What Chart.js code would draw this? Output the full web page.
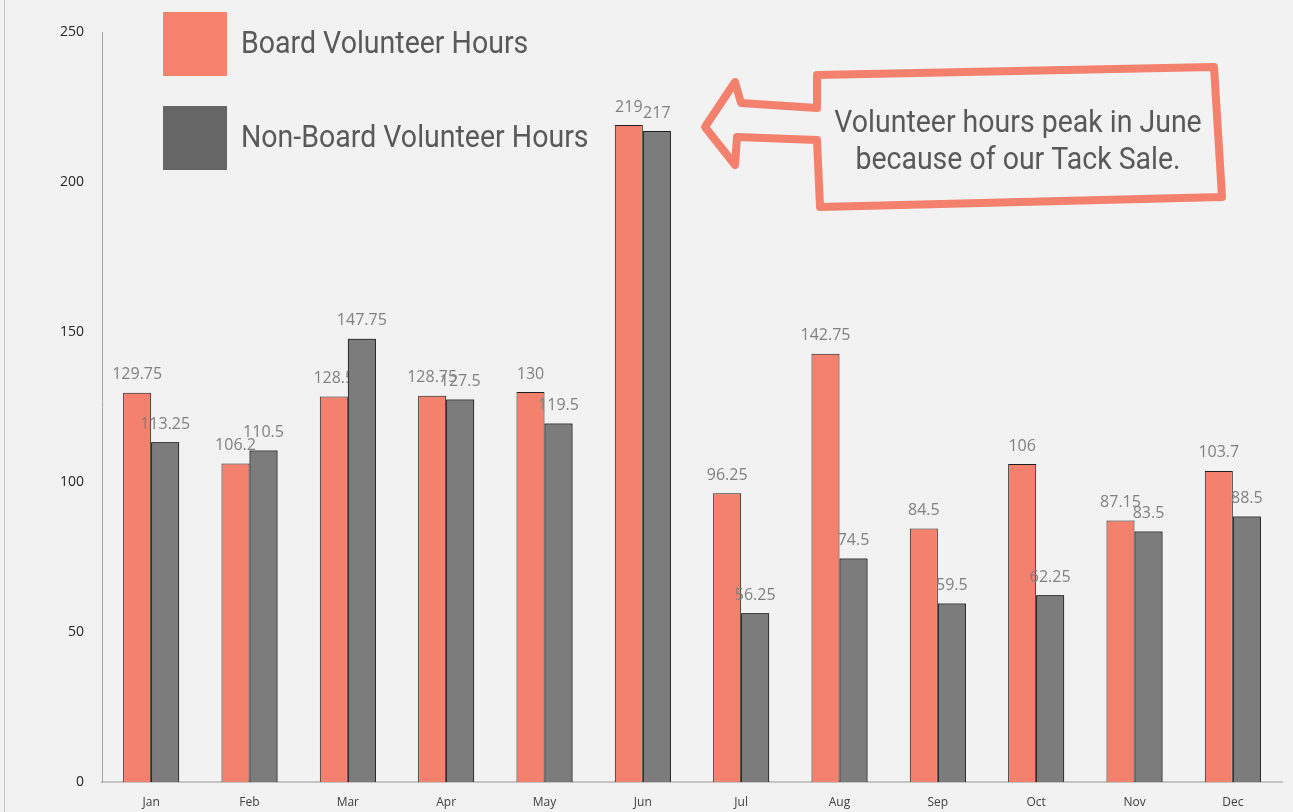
<!DOCTYPE html>
<html>
<head>
    <title>Volunteer Hours</title>
    <script src="https://cdn.jsdelivr.net/npm/chart.js"></script>
    <style>
        body {
            margin: 0;
            background: #f2f2f2;
        }

        .chart-container {
            width: 1293px;
            height: 812px;
        }
    </style>
</head>
<body>
    <div class="chart-container">
        <canvas id="hours-chart" width="1293" height="812"></canvas>
    </div>

    <script>
        const months = ['Jan', 'Feb', 'Mar', 'Apr', 'May', 'Jun', 'Jul', 'Aug', 'Sep', 'Oct', 'Nov', 'Dec'];
        const boardHours = [129.75, 106.2, 128.5, 128.75, 130, 219, 96.25, 142.75, 84.5, 106, 87.15, 103.7];
        const nonBoardHours = [113.25, 110.5, 147.75, 127.5, 119.5, 217, 56.25, 74.5, 59.5, 62.25, 83.5, 88.5];
        const yTicks = [0, 50, 100, 150, 200, 250];
        const seriesNames = ['Board Volunteer Hours', 'Non-Board Volunteer Hours'];
        const noteLines = ['Volunteer hours peak in June', 'because of our Tack Sale.'];

        const SALMON = '#f4816d';
        const TEXT_GRAY = '#595959';

        // draw text squeezed horizontally (stand-in for a condensed face)
        function condensedText(ctx, text, x, y, squeeze, align) {
            ctx.save();
            ctx.translate(x, y);
            ctx.scale(squeeze, 1);
            ctx.textAlign = align;
            ctx.fillText(text, 0, 0);
            ctx.restore();
        }

        const backdrop = {
            id: 'backdrop',
            beforeDraw(chart) {
                const ctx = chart.ctx;
                ctx.save();
                ctx.fillStyle = '#f2f2f2';
                ctx.fillRect(0, 0, chart.width, chart.height);
                ctx.strokeStyle = '#c8c8c8';
                ctx.lineWidth = 1;
                ctx.beginPath();
                ctx.moveTo(4.5, 0);
                ctx.lineTo(4.5, chart.height);
                ctx.stroke();
                ctx.restore();
            }
        };

        const valueLabels = {
            id: 'valueLabels',
            afterDatasetsDraw(chart) {
                const ctx = chart.ctx;
                ctx.save();
                ctx.font = '16px "Open Sans"';
                ctx.fillStyle = '#808080';
                ctx.textAlign = 'center';
                ctx.textBaseline = 'middle';
                const board = chart.getDatasetMeta(0);
                const other = chart.getDatasetMeta(1);
                board.data.forEach((bar, i) => {
                    ctx.fillText(String(boardHours[i]), bar.x, bar.y - 18);
                });
                // second series sits on top of the first series' labels
                other.data.forEach(bar => bar.draw(ctx));
                ctx.fillStyle = '#808080';
                other.data.forEach((bar, i) => {
                    ctx.fillText(String(nonBoardHours[i]), bar.x, bar.y - 18);
                });
                ctx.restore();
            }
        };

        const legendBox = {
            id: 'legendBox',
            afterDraw(chart) {
                const ctx = chart.ctx;
                const swatches = ['#f7836f', '#666666'];
                ctx.save();
                ctx.font = '31px Roboto';
                ctx.textBaseline = 'middle';
                seriesNames.forEach((name, i) => {
                    const top = 12 + i * 94;
                    ctx.fillStyle = swatches[i];
                    ctx.fillRect(163, top, 64, 64);
                    ctx.fillStyle = TEXT_GRAY;
                    condensedText(ctx, name, 241, top + 33, 0.92, 'left');
                });
                ctx.restore();
            }
        };

        const callout = {
            id: 'callout',
            afterDraw(chart) {
                const ctx = chart.ctx;
                ctx.save();
                ctx.strokeStyle = SALMON;
                ctx.lineWidth = 8;
                ctx.lineJoin = 'round';
                ctx.lineCap = 'round';
                ctx.beginPath();
                ctx.moveTo(817, 75);
                ctx.lineTo(817, 108);
                ctx.lineTo(741, 103);
                ctx.lineTo(735, 82);
                ctx.lineTo(705, 127);
                ctx.lineTo(735, 165);
                ctx.lineTo(737, 137);
                ctx.lineTo(817, 140);
                ctx.lineTo(820, 207);
                ctx.lineTo(1222, 197);
                ctx.lineTo(1214, 67);
                ctx.closePath();
                ctx.stroke();

                ctx.fillStyle = TEXT_GRAY;
                ctx.font = '32px Roboto';
                ctx.textBaseline = 'middle';
                noteLines.forEach((line, i) => {
                    condensedText(ctx, line, 1018, 124 + i * 37, 0.89, 'center');
                });
                ctx.restore();
            }
        };

        const ctx = document.getElementById('hours-chart').getContext('2d');
        new Chart(ctx, {
            type: 'bar',
            data: {
                labels: months,
                datasets: [
                    {
                        label: seriesNames[0],
                        data: boardHours,
                        backgroundColor: SALMON,
                        borderColor: '#1e1e1e',
                        borderWidth: 1
                    },
                    {
                        label: seriesNames[1],
                        data: nonBoardHours,
                        backgroundColor: '#7b7c7b',
                        borderColor: '#1e1e1e',
                        borderWidth: 1
                    }
                ]
            },
            options: {
                responsive: false,
                animation: false,
                layout: {
                    padding: { top: 32, right: 11, bottom: 0, left: 0 }
                },
                datasets: {
                    bar: {
                        categoryPercentage: 0.57,
                        barPercentage: 1
                    }
                },
                plugins: {
                    legend: { display: false },
                    tooltip: { enabled: false }
                },
                scales: {
                    x: {
                        grid: { display: false },
                        border: { color: '#c4c4c4', width: 2 },
                        ticks: {
                            color: '#404040',
                            font: { family: '"Open Sans"', size: 12 },
                            padding: 5
                        },
                        afterFit(scale) {
                            scale.height = 30;
                        }
                    },
                    y: {
                        min: 0,
                        max: 250,
                        grid: { display: false, drawTicks: false },
                        border: { color: '#a6a6a6', width: 1 },
                        ticks: {
                            color: '#262626',
                            font: { family: '"Open Sans"', size: 14 },
                            padding: 18
                        },
                        afterBuildTicks(scale) {
                            scale.ticks = yTicks.map(v => ({ value: v }));
                        },
                        afterFit(scale) {
                            scale.width = 102;
                        }
                    }
                }
            },
            plugins: [backdrop, valueLabels, legendBox, callout]
        });
    </script>
</body>
</html>
